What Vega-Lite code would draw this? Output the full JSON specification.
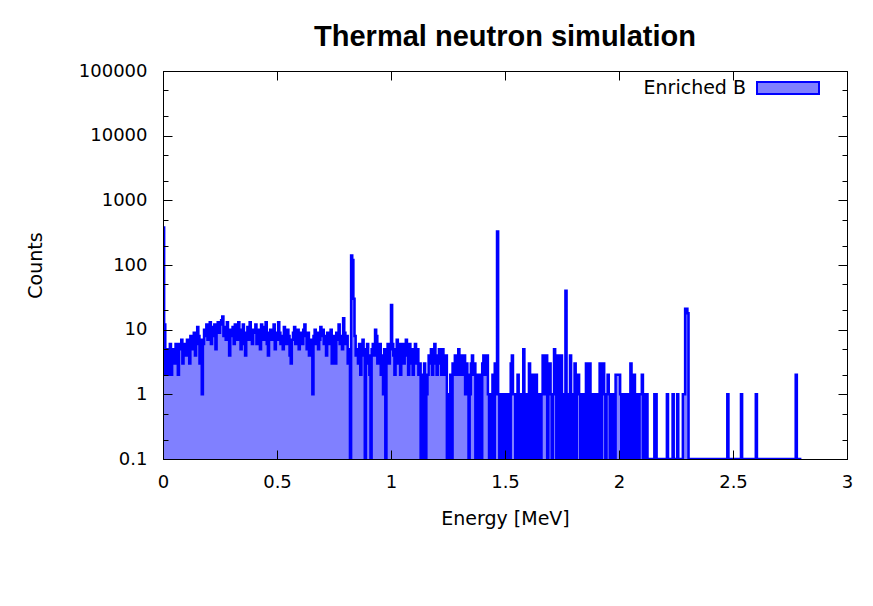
{
"$schema": "https://vega.github.io/schema/vega-lite/v6.json",
"width": 684,
"height": 388,
"autosize": {"type": "none"},
"padding": {"left": 163, "top": 71, "right": 26, "bottom": 147},
"background": "white",
"title": {"text": "Thermal neutron simulation", "font": "Liberation Sans", "fontSize": 29, "fontWeight": "bold", "color": "black", "anchor": "middle", "baseline": "alphabetic", "offset": -19},
"data": {"values": [
{"e":0.000,"c":380},{"e":0.005,"c":12},{"e":0.010,"c":2},{"e":0.015,"c":5},{"e":0.020,"c":3},{"e":0.025,"c":2},{"e":0.030,"c":6},{"e":0.035,"c":2},{"e":0.040,"c":4},{"e":0.045,"c":5},
{"e":0.050,"c":3},{"e":0.055,"c":6},{"e":0.060,"c":4},{"e":0.065,"c":2},{"e":0.070,"c":6},{"e":0.075,"c":5},{"e":0.080,"c":7},{"e":0.085,"c":3},{"e":0.090,"c":5},{"e":0.095,"c":6},
{"e":0.100,"c":4},{"e":0.105,"c":7},{"e":0.110,"c":6},{"e":0.115,"c":3},{"e":0.120,"c":8},{"e":0.125,"c":5},{"e":0.130,"c":7},{"e":0.135,"c":9},{"e":0.140,"c":4},{"e":0.145,"c":6},
{"e":0.150,"c":11},{"e":0.155,"c":8},{"e":0.160,"c":3},{"e":0.165,"c":7},{"e":0.170,"c":1},{"e":0.175,"c":6},{"e":0.180,"c":10},{"e":0.185,"c":8},{"e":0.190,"c":12},{"e":0.195,"c":7},
{"e":0.200,"c":9},{"e":0.205,"c":13},{"e":0.210,"c":6},{"e":0.215,"c":11},{"e":0.220,"c":8},{"e":0.225,"c":12},{"e":0.230,"c":5},{"e":0.235,"c":10},{"e":0.240,"c":13},{"e":0.245,"c":9},
{"e":0.250,"c":12},{"e":0.255,"c":14},{"e":0.260,"c":16},{"e":0.265,"c":8},{"e":0.270,"c":11},{"e":0.275,"c":7},{"e":0.280,"c":13},{"e":0.285,"c":9},{"e":0.290,"c":4},{"e":0.295,"c":10},
{"e":0.300,"c":8},{"e":0.305,"c":11},{"e":0.310,"c":6},{"e":0.315,"c":12},{"e":0.320,"c":9},{"e":0.325,"c":7},{"e":0.330,"c":13},{"e":0.335,"c":10},{"e":0.340,"c":5},{"e":0.345,"c":8},
{"e":0.350,"c":12},{"e":0.355,"c":6},{"e":0.360,"c":4},{"e":0.365,"c":9},{"e":0.370,"c":11},{"e":0.375,"c":7},{"e":0.380,"c":13},{"e":0.385,"c":8},{"e":0.390,"c":6},{"e":0.395,"c":10},
{"e":0.400,"c":9},{"e":0.405,"c":12},{"e":0.410,"c":6},{"e":0.415,"c":8},{"e":0.420,"c":10},{"e":0.425,"c":5},{"e":0.430,"c":12},{"e":0.435,"c":8},{"e":0.440,"c":7},{"e":0.445,"c":11},
{"e":0.450,"c":13},{"e":0.455,"c":6},{"e":0.460,"c":4},{"e":0.465,"c":9},{"e":0.470,"c":10},{"e":0.475,"c":7},{"e":0.480,"c":8},{"e":0.485,"c":12},{"e":0.490,"c":5},{"e":0.495,"c":9},
{"e":0.500,"c":7},{"e":0.505,"c":13},{"e":0.510,"c":9},{"e":0.515,"c":6},{"e":0.520,"c":8},{"e":0.525,"c":5},{"e":0.530,"c":11},{"e":0.535,"c":8},{"e":0.540,"c":6},{"e":0.545,"c":10},
{"e":0.550,"c":8},{"e":0.555,"c":4},{"e":0.560,"c":3},{"e":0.565,"c":7},{"e":0.570,"c":9},{"e":0.575,"c":11},{"e":0.580,"c":6},{"e":0.585,"c":8},{"e":0.590,"c":10},{"e":0.595,"c":5},
{"e":0.600,"c":9},{"e":0.605,"c":7},{"e":0.610,"c":6},{"e":0.615,"c":10},{"e":0.620,"c":12},{"e":0.625,"c":8},{"e":0.630,"c":5},{"e":0.635,"c":9},{"e":0.640,"c":4},{"e":0.645,"c":7},
{"e":0.650,"c":6},{"e":0.655,"c":1},{"e":0.660,"c":8},{"e":0.665,"c":10},{"e":0.670,"c":6},{"e":0.675,"c":9},{"e":0.680,"c":5},{"e":0.685,"c":7},{"e":0.690,"c":11},{"e":0.695,"c":8},
{"e":0.700,"c":10},{"e":0.705,"c":6},{"e":0.710,"c":8},{"e":0.715,"c":4},{"e":0.720,"c":9},{"e":0.725,"c":7},{"e":0.730,"c":6},{"e":0.735,"c":10},{"e":0.740,"c":3},{"e":0.745,"c":8},
{"e":0.750,"c":5},{"e":0.755,"c":3},{"e":0.760,"c":9},{"e":0.765,"c":7},{"e":0.770,"c":12},{"e":0.775,"c":6},{"e":0.780,"c":8},{"e":0.785,"c":5},{"e":0.790,"c":15},{"e":0.795,"c":9},
{"e":0.800,"c":6},{"e":0.805,"c":8},{"e":0.810,"c":3},{"e":0.815,"c":5},{"e":0.820,"c":0},{"e":0.825,"c":140},{"e":0.830,"c":120},{"e":0.835,"c":30},{"e":0.840,"c":8},{"e":0.845,"c":4},
{"e":0.850,"c":5},{"e":0.855,"c":3},{"e":0.860,"c":6},{"e":0.865,"c":2},{"e":0.870,"c":4},{"e":0.875,"c":7},{"e":0.880,"c":5},{"e":0.885,"c":0},{"e":0.890,"c":3},{"e":0.895,"c":6},
{"e":0.900,"c":4},{"e":0.905,"c":2},{"e":0.910,"c":0},{"e":0.915,"c":5},{"e":0.920,"c":6},{"e":0.925,"c":4},{"e":0.930,"c":10},{"e":0.935,"c":8},{"e":0.940,"c":3},{"e":0.945,"c":5},
{"e":0.950,"c":6},{"e":0.955,"c":2},{"e":0.960,"c":4},{"e":0.965,"c":1},{"e":0.970,"c":5},{"e":0.975,"c":0},{"e":0.980,"c":4},{"e":0.985,"c":6},{"e":0.990,"c":3},{"e":0.995,"c":5},
{"e":1.000,"c":24},{"e":1.005,"c":6},{"e":1.010,"c":4},{"e":1.015,"c":2},{"e":1.020,"c":5},{"e":1.025,"c":7},{"e":1.030,"c":3},{"e":1.035,"c":6},{"e":1.040,"c":2},{"e":1.045,"c":5},
{"e":1.050,"c":6},{"e":1.055,"c":3},{"e":1.060,"c":5},{"e":1.065,"c":7},{"e":1.070,"c":4},{"e":1.075,"c":2},{"e":1.080,"c":6},{"e":1.085,"c":3},{"e":1.090,"c":5},{"e":1.095,"c":2},
{"e":1.100,"c":4},{"e":1.105,"c":6},{"e":1.110,"c":3},{"e":1.115,"c":5},{"e":1.120,"c":2},{"e":1.125,"c":3},{"e":1.130,"c":0},{"e":1.135,"c":2},{"e":1.140,"c":0},{"e":1.145,"c":3},
{"e":1.150,"c":0},{"e":1.155,"c":1},{"e":1.160,"c":2},{"e":1.165,"c":4},{"e":1.170,"c":3},{"e":1.175,"c":5},{"e":1.180,"c":2},{"e":1.185,"c":4},{"e":1.190,"c":6},{"e":1.195,"c":3},
{"e":1.200,"c":2},{"e":1.205,"c":4},{"e":1.210,"c":5},{"e":1.215,"c":3},{"e":1.220,"c":2},{"e":1.225,"c":5},{"e":1.230,"c":3},{"e":1.235,"c":2},{"e":1.240,"c":4},{"e":1.245,"c":0},
{"e":1.250,"c":1},{"e":1.255,"c":0},{"e":1.260,"c":2},{"e":1.265,"c":0},{"e":1.270,"c":3},{"e":1.275,"c":2},{"e":1.280,"c":4},{"e":1.285,"c":2},{"e":1.290,"c":3},{"e":1.295,"c":5},
{"e":1.300,"c":2},{"e":1.305,"c":4},{"e":1.310,"c":3},{"e":1.315,"c":2},{"e":1.320,"c":4},{"e":1.325,"c":1},{"e":1.330,"c":3},{"e":1.335,"c":2},{"e":1.340,"c":0},{"e":1.345,"c":1},
{"e":1.350,"c":3},{"e":1.355,"c":4},{"e":1.360,"c":2},{"e":1.365,"c":3},{"e":1.370,"c":0},{"e":1.375,"c":2},{"e":1.380,"c":1},{"e":1.385,"c":0},{"e":1.390,"c":2},{"e":1.395,"c":0},
{"e":1.400,"c":3},{"e":1.405,"c":4},{"e":1.410,"c":2},{"e":1.415,"c":3},{"e":1.420,"c":4},{"e":1.425,"c":1},{"e":1.430,"c":0},{"e":1.435,"c":1},{"e":1.440,"c":0},{"e":1.445,"c":2},
{"e":1.450,"c":0},{"e":1.455,"c":3},{"e":1.460,"c":1},{"e":1.465,"c":330},{"e":1.470,"c":1},{"e":1.475,"c":0},{"e":1.480,"c":1},{"e":1.485,"c":0},{"e":1.490,"c":1},{"e":1.495,"c":1},
{"e":1.500,"c":0},{"e":1.505,"c":1},{"e":1.510,"c":0},{"e":1.515,"c":1},{"e":1.520,"c":0},{"e":1.525,"c":3},{"e":1.530,"c":4},{"e":1.535,"c":1},{"e":1.540,"c":1},{"e":1.545,"c":0},
{"e":1.550,"c":1},{"e":1.555,"c":2},{"e":1.560,"c":0},{"e":1.565,"c":1},{"e":1.570,"c":0},{"e":1.575,"c":1},{"e":1.580,"c":5},{"e":1.585,"c":0},{"e":1.590,"c":1},{"e":1.595,"c":0},
{"e":1.600,"c":1},{"e":1.605,"c":3},{"e":1.610,"c":0},{"e":1.615,"c":1},{"e":1.620,"c":2},{"e":1.625,"c":0},{"e":1.630,"c":1},{"e":1.635,"c":2},{"e":1.640,"c":0},{"e":1.645,"c":1},
{"e":1.650,"c":1},{"e":1.655,"c":0},{"e":1.660,"c":1},{"e":1.665,"c":4},{"e":1.670,"c":4},{"e":1.675,"c":1},{"e":1.680,"c":4},{"e":1.685,"c":0},{"e":1.690,"c":1},{"e":1.695,"c":3},
{"e":1.700,"c":1},{"e":1.705,"c":0},{"e":1.710,"c":1},{"e":1.715,"c":5},{"e":1.720,"c":1},{"e":1.725,"c":0},{"e":1.730,"c":4},{"e":1.735,"c":1},{"e":1.740,"c":0},{"e":1.745,"c":4},
{"e":1.750,"c":1},{"e":1.755,"c":0},{"e":1.760,"c":1},{"e":1.765,"c":40},{"e":1.770,"c":0},{"e":1.775,"c":1},{"e":1.780,"c":0},{"e":1.785,"c":4},{"e":1.790,"c":1},{"e":1.795,"c":0},
{"e":1.800,"c":1},{"e":1.805,"c":3},{"e":1.810,"c":0},{"e":1.815,"c":1},{"e":1.820,"c":2},{"e":1.825,"c":1},{"e":1.830,"c":0},{"e":1.835,"c":1},{"e":1.840,"c":0},{"e":1.845,"c":1},
{"e":1.850,"c":0},{"e":1.855,"c":3},{"e":1.860,"c":1},{"e":1.865,"c":0},{"e":1.870,"c":3},{"e":1.875,"c":1},{"e":1.880,"c":0},{"e":1.885,"c":1},{"e":1.890,"c":0},{"e":1.895,"c":1},
{"e":1.900,"c":1},{"e":1.905,"c":0},{"e":1.910,"c":1},{"e":1.915,"c":3},{"e":1.920,"c":0},{"e":1.925,"c":1},{"e":1.930,"c":3},{"e":1.935,"c":1},{"e":1.940,"c":0},{"e":1.945,"c":1},
{"e":1.950,"c":2},{"e":1.955,"c":1},{"e":1.960,"c":0},{"e":1.965,"c":1},{"e":1.970,"c":0},{"e":1.975,"c":1},{"e":1.980,"c":0},{"e":1.985,"c":2},{"e":1.990,"c":2},{"e":1.995,"c":2},
{"e":2.000,"c":2},{"e":2.005,"c":1},{"e":2.010,"c":0},{"e":2.015,"c":1},{"e":2.020,"c":0},{"e":2.025,"c":1},{"e":2.030,"c":1},{"e":2.035,"c":0},{"e":2.040,"c":1},{"e":2.045,"c":0},
{"e":2.050,"c":3},{"e":2.055,"c":1},{"e":2.060,"c":0},{"e":2.065,"c":2},{"e":2.070,"c":1},{"e":2.075,"c":0},{"e":2.080,"c":1},{"e":2.085,"c":0},{"e":2.090,"c":1},{"e":2.095,"c":1},
{"e":2.100,"c":2},{"e":2.105,"c":0},{"e":2.110,"c":1},{"e":2.115,"c":0},{"e":2.120,"c":1},{"e":2.125,"c":0},{"e":2.130,"c":0},{"e":2.135,"c":0},{"e":2.140,"c":0},{"e":2.145,"c":0},
{"e":2.150,"c":0},{"e":2.155,"c":1},{"e":2.160,"c":1},{"e":2.165,"c":0},{"e":2.170,"c":0},{"e":2.175,"c":0},{"e":2.180,"c":0},{"e":2.185,"c":0},{"e":2.190,"c":0},{"e":2.195,"c":0},
{"e":2.200,"c":0},{"e":2.205,"c":0},{"e":2.210,"c":1},{"e":2.215,"c":0},{"e":2.220,"c":0},{"e":2.225,"c":0},{"e":2.230,"c":0},{"e":2.235,"c":1},{"e":2.240,"c":0},{"e":2.245,"c":0},
{"e":2.250,"c":0},{"e":2.255,"c":1},{"e":2.260,"c":0},{"e":2.265,"c":0},{"e":2.270,"c":0},{"e":2.275,"c":0},{"e":2.280,"c":1},{"e":2.285,"c":1},{"e":2.290,"c":21},{"e":2.295,"c":21},
{"e":2.300,"c":18},{"e":2.305,"c":0},{"e":2.475,"c":1},{"e":2.480,"c":0},{"e":2.535,"c":1},{"e":2.540,"c":0},{"e":2.600,"c":1},{"e":2.605,"c":0},{"e":2.775,"c":2},{"e":2.780,"c":0},{"e":2.800,"c":0}
]},
"layer": [
{
"mark": {"type": "area", "interpolate": "step-after", "opacity": 1, "clip": true},
"encoding": {
"x": {"field": "e", "type": "quantitative", "scale": {"domain": [0, 3], "nice": false, "zero": false},
"axis": {"orient": "bottom", "zindex": 1, "values": [0, 0.5, 1, 1.5, 2, 2.5, 3], "format": "~g", "tickSize": -9, "labelPadding": 23, "labelFontSize": 18, "labelFont": "DejaVu Sans", "labelColor": "black", "labelFlush": false, "labelOverlap": false, "tickColor": "black", "domainColor": "black", "grid": false, "title": "Energy [MeV]", "titleFont": "DejaVu Sans", "titleFontSize": 19, "titleFontWeight": "normal", "titleColor": "black", "titleX": 342, "titleY": 59, "titleAlign": "center", "titleBaseline": "middle"}},
"y": {"field": "c", "type": "quantitative", "scale": {"type": "log", "domain": [0.1, 100000], "clamp": true, "nice": false},
"axis": {"orient": "left", "zindex": 1, "values": [0.1, 0.2, 0.5, 1, 2, 5, 10, 20, 50, 100, 200, 500, 1000, 2000, 5000, 10000, 20000, 50000, 100000], "format": "~g", "labelExpr": "indexof([0.1,1,10,100,1000,10000,100000], datum.value) >= 0 ? datum.label : ''", "tickSize": {"condition": {"test": "indexof([0.1,1,10,100,1000,10000,100000], datum.value) >= 0", "value": -9}, "value": -5}, "labelPadding": 25, "labelFontSize": 18, "labelFont": "DejaVu Sans", "labelColor": "black", "labelFlush": false, "labelOverlap": false, "tickColor": "black", "domainColor": "black", "grid": false, "title": "Counts", "titleFont": "DejaVu Sans", "titleFontSize": 19, "titleFontWeight": "normal", "titleColor": "black", "titleX": -128, "titleY": 194, "titleAngle": 270, "titleAlign": "center", "titleBaseline": "middle"}},
"fill": {"datum": "Enriched B", "type": "nominal", "scale": {"range": ["#8080ff"]},
"legend": {"orient": "none", "legendX": 593, "legendY": -15, "title": null, "symbolType": "M-1,-0.19H1V0.19H-1Z", "symbolSize": 3844, "symbolStrokeColor": "#0000ff", "symbolStrokeWidth": 2, "symbolOpacity": 1, "labelFontSize": 19, "labelFont": "DejaVu Sans", "labelColor": "black", "labelAlign": "right", "labelOffset": -74, "padding": 0}}
}
},
{
"mark": {"type": "line", "interpolate": "step-after", "color": "#0000ff", "strokeWidth": 2.5, "clip": true},
"encoding": {
"x": {"field": "e", "type": "quantitative", "axis": null},
"y": {"field": "c", "type": "quantitative", "axis": null}
}
},
{
"mark": {"type": "line", "opacity": 0},
"encoding": {
"x": {"field": "e", "type": "quantitative", "axis": {"orient": "top", "zindex": 1, "values": [0, 0.5, 1, 1.5, 2, 2.5, 3], "labels": false, "tickSize": -9, "tickColor": "black", "domainColor": "black", "grid": false, "title": null}},
"y": {"field": "c", "type": "quantitative", "axis": {"orient": "right", "zindex": 1, "values": [0.1, 0.2, 0.5, 1, 2, 5, 10, 20, 50, 100, 200, 500, 1000, 2000, 5000, 10000, 20000, 50000, 100000], "labels": false, "tickSize": {"condition": {"test": "indexof([0.1,1,10,100,1000,10000,100000], datum.value) >= 0", "value": -9}, "value": -5}, "tickColor": "black", "domainColor": "black", "grid": false, "title": null}}
}
}
],
"resolve": {"axis": {"x": "independent", "y": "independent"}},
"config": {"view": {"stroke": "black", "strokeWidth": 1}, "font": "DejaVu Sans"}
}
